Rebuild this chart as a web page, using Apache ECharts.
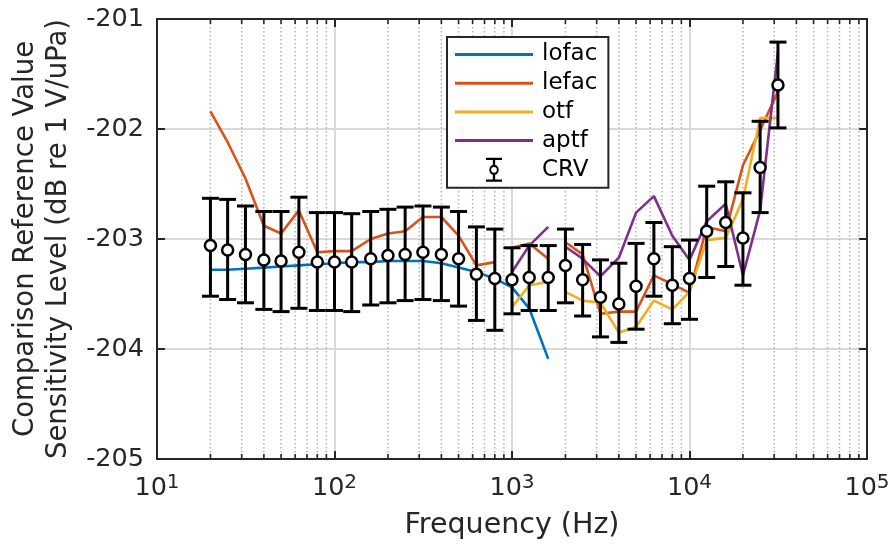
<!DOCTYPE html>
<html><head><meta charset="utf-8">
<script src="https://cdn.jsdelivr.net/npm/echarts@6/dist/echarts.min.js"></script>
<style>html,body{margin:0;padding:0;background:#fff}#c{width:895px;height:552px}</style>
</head><body><div id="c"></div>
<script>
// ---- data ----
const crvFreq = [20,25,31.5,40,50,63,80,100,125,160,200,250,315,400,500,630,800,1000,1250,1600,2000,2500,3150,4000,5000,6300,8000,10000,12500,16000,20000,25000,31500];
const crvValue = [-203.06,-203.10,-203.14,-203.19,-203.20,-203.12,-203.21,-203.21,-203.21,-203.18,-203.15,-203.14,-203.12,-203.14,-203.18,-203.32,-203.36,-203.37,-203.35,-203.35,-203.24,-203.37,-203.53,-203.59,-203.43,-203.18,-203.42,-203.36,-202.93,-202.85,-202.99,-202.35,-201.60];
const crvUpper = [-202.63,-202.64,-202.70,-202.75,-202.75,-202.62,-202.76,-202.76,-202.77,-202.75,-202.73,-202.71,-202.70,-202.71,-202.75,-202.89,-202.91,-203.08,-203.06,-203.06,-202.91,-203.05,-203.19,-203.22,-203.04,-202.85,-203.07,-203.01,-202.52,-202.48,-202.58,-201.93,-201.21];
const crvLower = [-203.52,-203.55,-203.58,-203.64,-203.66,-203.63,-203.65,-203.65,-203.66,-203.60,-203.58,-203.56,-203.55,-203.56,-203.61,-203.74,-203.83,-203.68,-203.65,-203.65,-203.58,-203.70,-203.89,-203.94,-203.82,-203.52,-203.77,-203.73,-203.35,-203.25,-203.42,-202.76,-201.99];

const lofacFreq = [20,25,31.5,40,50,63,80,100,125,160,200,250,315,400,500,630,800,1000,1250,1600];
const lofac = [-203.28,-203.28,-203.27,-203.26,-203.25,-203.24,-203.23,-203.22,-203.21,-203.21,-203.20,-203.20,-203.20,-203.22,-203.26,-203.30,-203.36,-203.44,-203.63,-204.09];

const lowFreq = [20,25,31.5,40,50,63,80,100,125,160,200,250,315,400,500,630,800];
const midFreq = [1000,1250,1600];
const highFreq = [2000,2500,3150,4000,5000,6300,8000,10000,12500,16000,20000,25000,31500];

const lefacLow = [-201.84,-202.12,-202.45,-202.88,-202.95,-202.74,-203.12,-203.11,-203.11,-203.00,-202.95,-202.93,-202.80,-202.80,-202.97,-203.24,-203.21];
const lefacMid = [-203.08,-203.04,-203.18];
const lefacHigh = [-203.03,-203.14,-203.68,-203.66,-203.66,-203.33,-203.41,-203.49,-202.89,-202.93,-202.33,-202.01,-201.66];

const otfMid = [-203.62,-203.42,-203.39];
const otfHigh = [-203.48,-203.56,-203.58,-203.85,-203.80,-203.56,-203.64,-203.48,-203.01,-202.99,-202.64,-201.90,-201.90];

const aptfMid = [-203.30,-203.06,-202.89];
const aptfHigh = [-203.07,-203.18,-203.34,-203.17,-202.76,-202.61,-202.97,-203.19,-202.84,-202.68,-203.33,-202.74,-201.30];

const yTicks = [-205,-204,-203,-202,-201];
const legendNames = ['lofac','lefac','otf','aptf','CRV'];

// ---- styling ----
const FONT = 'DejaVu Sans';
const TXT = '#262626';
const COLORS = {lofac:'#0072BD', lefac:'#D95319', otf:'#EDB120', aptf:'#7E2F8E'};
const X_MIN = 10, X_MAX = 100000, Y_MIN = yTicks[0], Y_MAX = yTicks[yTicks.length-1];

const minorFreqs = [];
for (let d = 10; d < X_MAX; d *= 10) for (let k = 2; k <= 9; k++) minorFreqs.push(d * k);

function zip(xs, ys){ return xs.map((x,i)=>[x, ys[i]]); }
function lineSeries(name, xs, ys){
  return {type:'line', name, data: zip(xs, ys), symbol:'none', showSymbol:false,
    lineStyle:{color:COLORS[name], width:2.6}, itemStyle:{color:COLORS[name]},
    color: COLORS[name], animation:false, z:3, silent:true};
}

const lineIcon = 'path://M0,0 L78,0 L78,3 L0,3 Z';
const crvIcon = 'path://M0,0 L18,0 L18,2.6 L10.3,2.6 L10.3,7.9 A5.9,5.9 0 0 1 10.3,19.1 L10.3,24.4 L18,24.4 L18,27 L0,27 L0,24.4 L7.7,24.4 L7.7,19.1 A5.9,5.9 0 0 1 7.7,7.9 L7.7,2.6 L0,2.6 Z M9,10.3 A3.2,3.2 0 1 0 9,16.7 A3.2,3.2 0 1 0 9,10.3 Z';

const chart = echarts.init(document.getElementById('c'), null, {renderer:'canvas'});
chart.setOption({
  animation:false,
  backgroundColor:'#fff',
  textStyle:{fontFamily:FONT},
  grid:{left:157, right:28, top:19, bottom:93, containLabel:false},
  legend:{
    orient:'vertical', left:447, top:37,
    data: legendNames.map(n => ({name:n, icon: n === 'CRV' ? crvIcon : lineIcon})),
    itemWidth:78, itemHeight:24, itemGap:5.7,
    symbolKeepAspect:true,
    padding:[6,11,6,8],
    borderColor:'#262626', borderWidth:2, backgroundColor:'#fff',
    textStyle:{fontSize:23, color:'#000', fontFamily:FONT, padding:[0,0,0,4]},
    selectedMode:false
  },
  xAxis:[{
    type:'log', logBase:10, min:X_MIN, max:X_MAX, position:'bottom',
    name:'Frequency (Hz)', nameLocation:'middle', nameGap:52,
    nameTextStyle:{fontSize:28.5, color:TXT, fontFamily:FONT},
    axisLine:{show:true, lineStyle:{color:TXT, width:2}},
    axisTick:{show:true, inside:true, length:8, lineStyle:{color:TXT, width:2}},
    splitLine:{show:true, lineStyle:{color:'#d9d9d9', width:2}},
    axisLabel:{
      margin:14, color:TXT,
      formatter: v => '{b|10}{s|' + Math.round(Math.log10(v)) + '}',
      rich:{
        b:{fontSize:25.5, color:TXT, fontFamily:FONT, lineHeight:30},
        s:{fontSize:20, color:TXT, fontFamily:FONT, lineHeight:16, verticalAlign:'top'}
      }
    }
  },{
    type:'log', logBase:10, min:X_MIN, max:X_MAX, position:'top',
    axisLine:{show:true, lineStyle:{color:TXT, width:2}},
    axisTick:{show:true, inside:true, length:8, lineStyle:{color:TXT, width:2}},
    axisLabel:{show:false}, splitLine:{show:false}
  }],
  yAxis:[{
    type:'value', min:Y_MIN, max:Y_MAX, interval:1, position:'left',
    name:'Comparison Reference Value\nSensitivity Level (dB re 1 V/uPa)',
    nameLocation:'middle', nameRotate:90, nameGap:80,
    nameTextStyle:{fontSize:27.5, color:TXT, fontFamily:FONT, lineHeight:33},
    axisLine:{show:true, lineStyle:{color:TXT, width:2}},
    axisTick:{show:true, inside:true, length:8, lineStyle:{color:TXT, width:2}},
    splitLine:{show:true, lineStyle:{color:'#d9d9d9', width:2}},
    axisLabel:{fontSize:25.5, color:TXT, margin:13, fontFamily:FONT}
  },{
    type:'value', min:Y_MIN, max:Y_MAX, interval:1, position:'right',
    axisLine:{show:true, lineStyle:{color:TXT, width:2}},
    axisTick:{show:true, inside:true, length:8, lineStyle:{color:TXT, width:2}},
    axisLabel:{show:false}, splitLine:{show:false}
  }],
  series:[
    {
      type:'custom', name:'minorGrid', silent:true, z:1,
      data: minorFreqs.map(f => [f, Y_MIN]),
      encode:{x:0, y:1},
      renderItem:(params, api) => {
        const f = api.value(0);
        const top = api.coord([f, Y_MAX]);
        const bot = api.coord([f, Y_MIN]);
        const st = {stroke:TXT, lineWidth:1.6};
        return {type:'group', children:[
          {type:'line', shape:{x1:top[0], y1:top[1], x2:bot[0], y2:bot[1]},
            style:{stroke:'#b3b3b3', lineWidth:1.5, lineDash:[1.5,2.5]}},
          {type:'line', shape:{x1:bot[0], y1:bot[1], x2:bot[0], y2:bot[1]-5}, style:st},
          {type:'line', shape:{x1:top[0], y1:top[1], x2:top[0], y2:top[1]+5}, style:st}
        ]};
      }
    },
    lineSeries('lofac', lofacFreq, lofac),
    lineSeries('lefac', lowFreq, lefacLow),
    lineSeries('lefac', midFreq, lefacMid),
    lineSeries('lefac', highFreq, lefacHigh),
    lineSeries('otf', midFreq, otfMid),
    lineSeries('otf', highFreq, otfHigh),
    lineSeries('aptf', midFreq, aptfMid),
    lineSeries('aptf', highFreq, aptfHigh),
    {
      type:'custom', name:'CRV', z:4, silent:true,
      itemStyle:{color:'#000'}, color:'#000',
      data: crvFreq.map((f,i) => [f, crvLower[i], crvUpper[i]]),
      encode:{x:0, y:[1,2]},
      renderItem:(params, api) => {
        const f = api.value(0);
        const pb = api.coord([f, api.value(1)]);
        const pt = api.coord([f, api.value(2)]);
        const hw = 8.5, st = {stroke:'#000', lineWidth:3};
        return {type:'group', children:[
          {type:'line', shape:{x1:pt[0], y1:pt[1], x2:pb[0], y2:pb[1]}, style:st},
          {type:'line', shape:{x1:pt[0]-hw, y1:pt[1], x2:pt[0]+hw, y2:pt[1]}, style:st},
          {type:'line', shape:{x1:pb[0]-hw, y1:pb[1], x2:pb[0]+hw, y2:pb[1]}, style:st}
        ]};
      }
    },
    {
      type:'scatter', name:'CRV', z:5, silent:true,
      data: zip(crvFreq, crvValue),
      symbol:'circle', symbolSize:11,
      itemStyle:{color:'#fff', borderColor:'#000', borderWidth:2.5, opacity:1}
    }
  ]
});
</script>
</body></html>
